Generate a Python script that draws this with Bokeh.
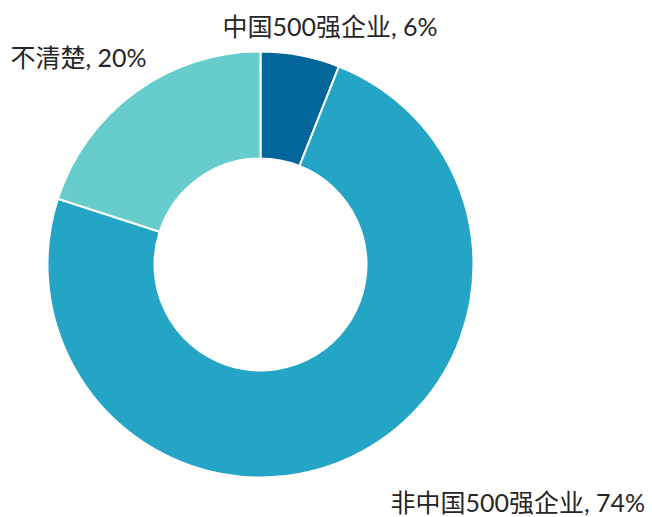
import numpy as np
from bokeh.plotting import figure
from bokeh.models import Range1d, ColumnDataSource
from bokeh.core.properties import value
from bokeh.embed import file_html
from bokeh.resources import INLINE

categories = ["中国500强企业", "非中国500强企业", "不清楚"]
shares = [6, 74, 20]
colors = ["#03669A", "#25A5C5", "#67CDCC"]

W, H = 652, 517
cx, cy = 260, 517 - 264
r_out, r_in = 213, 106

vals = np.array(shares, dtype=float)
frac = vals / vals.sum()
cum = np.concatenate([[0], np.cumsum(frac)])
start = np.pi / 2 - 2 * np.pi * cum[1:]
end = np.pi / 2 - 2 * np.pi * cum[:-1]

src = ColumnDataSource(dict(x=[cx] * 3, y=[cy] * 3, start=start, end=end, color=colors))

p = figure(width=W, height=H, x_range=Range1d(0, W), y_range=Range1d(0, H),
           output_backend="svg", toolbar_location=None, min_border=0)
p.axis.visible = False
p.grid.visible = False
p.outline_line_color = None
p.background_fill_color = "white"

p.annular_wedge(x="x", y="y", inner_radius=r_in, outer_radius=r_out,
                start_angle="start", end_angle="end", fill_color="color",
                line_color="white", line_width=2, source=src)

labels = [f"{c}, {s}%" for c, s in zip(categories, shares)]
lx = [222, 390, 10]
ly = [517 - 25, 517 - 501, 517 - 56]
p.text(x=lx, y=ly, text=labels, text_align="left", text_baseline="middle",
       text_font=value("Lato, 'Noto Sans CJK SC'"), text_font_size="25px",
       text_color="#262626")

open("out.html", "w").write(file_html(p, INLINE))
